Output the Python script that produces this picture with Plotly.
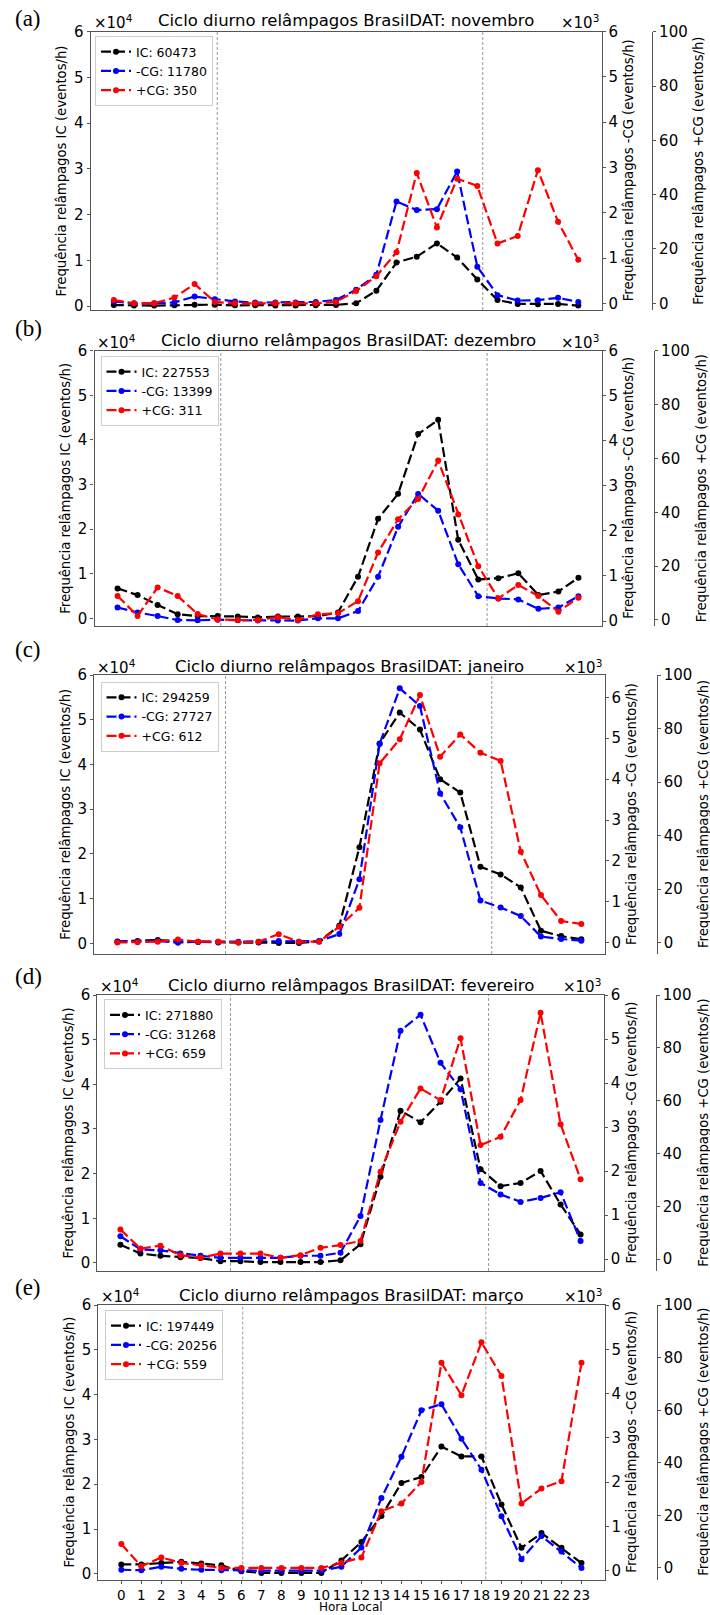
import plotly.graph_objects as go

W, H = 710, 1615

hours = list(range(24))
months = ["novembro", "dezembro", "janeiro", "fevereiro", "março"]
panel_labels = ["(a)", "(b)", "(c)", "(d)", "(e)"]

# IC flashes per hour (events/h)
ic_nov = [200, 100, 100, 150, 300, 300, 150, 150, 100, 100, 150, 250, 600, 3350, 9500, 10800, 13700, 10600, 5800, 1300, 450, 400, 450, 100]
ic_dez = [6700, 5200, 3000, 900, 500, 500, 400, 200, 400, 400, 500, 1300, 9300, 22300, 27900, 41300, 44500, 17600, 8700, 9000, 10100, 5200, 6000, 9100]
ic_jan = [400, 500, 750, 400, 300, 150, 150, 150, 50, 50, 400, 3900, 21500, 44700, 51600, 47800, 36700, 33700, 17100, 15400, 12500, 2800, 1600, 900]
ic_fev = [4100, 2100, 1600, 1300, 1100, 400, 400, 200, 200, 200, 200, 600, 4200, 19300, 34100, 31500, 36100, 41300, 21000, 17200, 17900, 20600, 13100, 6400]
ic_mar = [2100, 2100, 2400, 2700, 2300, 1900, 600, 200, 200, 200, 200, 3000, 7100, 12900, 20300, 21600, 28400, 26200, 26200, 15500, 5800, 9100, 5800, 2400]

# -CG flashes per hour
ncg_nov = [40, 0, 0, 20, 150, 90, 40, 15, 15, 15, 30, 75, 300, 630, 2250, 2060, 2080, 2910, 810, 180, 60, 70, 120, 30]
ncg_dez = [300, 190, 110, 20, 15, 30, 15, 10, 10, 10, 60, 60, 220, 980, 2090, 2820, 2450, 1260, 550, 500, 480, 270, 300, 550]
ncg_jan = [25, 25, 40, 0, 25, 25, 25, 25, 40, 25, 40, 210, 1550, 4860, 6220, 5790, 3650, 2820, 1030, 860, 650, 150, 90, 50]
ncg_fev = [520, 220, 200, 130, 76, 30, 30, 30, 30, 76, 76, 144, 980, 3160, 5190, 5550, 4460, 3860, 1730, 1470, 1300, 1390, 1520, 410]
ncg_mar = [20, 10, 90, 40, 20, 10, 0, 0, 0, 0, 0, 90, 520, 1640, 2570, 3620, 3760, 2980, 2280, 1230, 260, 780, 430, 60]

# +CG flashes per hour
pcg_nov = [1.2, 0, 0, 2.1, 7.1, 0.5, 0, 0, 0, 0, 0, 0.5, 4.5, 10, 18.8, 48, 27.9, 45.9, 43.2, 22, 24.8, 49, 30, 16]
pcg_dez = [8.9, 1.5, 12.1, 8.9, 2.2, 0.2, 0, 0, 1, 0, 2.1, 2.5, 7, 25.1, 37.4, 44.9, 59.2, 39.2, 20, 8, 13, 8.9, 3.1, 8.3]
pcg_jan = [0.1, 0.2, 0.4, 1.2, 0.4, 0.4, 0.1, 0.4, 3.2, 0.4, 0.4, 6, 13.1, 67, 76, 92.5, 69.5, 77.8, 71, 67.9, 34, 17.8, 8.1, 7]
pcg_fev = [11.2, 4.0, 5.1, 1.5, 0.5, 2.1, 2.1, 2.1, 0.5, 1.5, 4.3, 5.3, 6.9, 33.1, 52, 64.6, 60.2, 83.6, 43.2, 46.3, 60.2, 93.3, 51.1, 30.2]
pcg_mar = [9.1, 0.6, 4.0, 1.9, 1.0, 0, 0, 0, 0, 0, 0, 1.9, 4.0, 21.6, 24.5, 32.7, 78, 65.7, 85.8, 73, 24.5, 30.2, 33, 78]

ic_total = [60473, 227553, 294259, 271880, 197449]
ncg_total = [11780, 13399, 27727, 31268, 20256]
pcg_total = [350, 311, 612, 659, 559]

sunrise = [5.12, 5.15, 5.36, 5.5, 6.07]
sunset = [18.27, 18.44, 18.56, 18.4, 18.22]

ic_tick_vals = [0, 10000, 20000, 30000, 40000, 50000, 60000]
ic_tick_text = ["0", "1", "2", "3", "4", "5", "6"]
ncg_tick_vals = [0, 1000, 2000, 3000, 4000, 5000, 6000]
ncg_tick_text = ["0", "1", "2", "3", "4", "5", "6"]
pcg_tick_vals = [0, 20, 40, 60, 80, 100]

IC = [ic_nov, ic_dez, ic_jan, ic_fev, ic_mar]
NCG = [ncg_nov, ncg_dez, ncg_jan, ncg_fev, ncg_mar]
PCG = [pcg_nov, pcg_dez, pcg_jan, pcg_fev, pcg_mar]

# ---- layout geometry (pixels) ----
frames = [  # left, right, top, bottom, third spine x
    (90.6, 601.5, 31.7, 310.0, 652.0),
    (94.5, 601.5, 350.7, 626.0, 654.0),
    (94.2, 604.5, 675.0, 954.0, 656.6),
    (97.4, 603.6, 995.0, 1271.0, 655.7),
    (98.3, 604.5, 1305.0, 1579.5, 656.6),
]
ic_lo = [-870, -1730, -2400, -1800, -1260]
ncg_rng = [(-148, 6000), (-111, 6000), (-277, 6546), (-270, 6000), (-200, 6000)]
pcg_lo = [-2.47, -2.23, -4.2, -4.5, -4.4]
title_y = [20.7, 340.7, 666.0, 985.0, 1295.0]
label_y = [19.0, 328.0, 649.0, 976.0, 1287.0]
legend_pos = [(95, 36), (100.5, 356), (100.5, 681.7), (104, 999.3), (105, 1310)]

FONT = "DejaVu Sans"
AXC = "#555555"
TICKF = dict(family=FONT, size=15, color="black")
XTICKF = dict(family=FONT, size=13.5, color="black")
LINE_DASH = "10px,4px"

fig = go.Figure()
layout = dict(
    width=W, height=H, margin=dict(l=0, r=0, t=0, b=0),
    paper_bgcolor="white", plot_bgcolor="white",
    font=dict(family=FONT, color="black"),
    showlegend=True,
)
annotations = []
shapes = []


def px_x(v):
    return v / W


def px_y(v):
    return 1 - v / H


for i in range(5):
    L, R, T, B, S = frames[i]
    xk = "x" if i == 0 else f"x{i + 1}"
    xlay = "xaxis" if i == 0 else f"xaxis{i + 1}"
    ks = [3 * i + 1, 3 * i + 2, 3 * i + 3]
    yk = ["y" if k == 1 else f"y{k}" for k in ks]
    ylay = ["yaxis" if k == 1 else f"yaxis{k}" for k in ks]
    lg = "legend" if i == 0 else f"legend{i + 1}"
    xdom = [px_x(L), px_x(R)]
    ydom = [px_y(B), px_y(T)]
    last = (i == 4)

    xaxis = dict(
        domain=xdom, anchor=yk[0], range=[-1.15, 24.15],
        showline=True, linecolor=AXC, linewidth=1.2, mirror=True,
        showgrid=False, zeroline=False, automargin=False,
    )
    if last:
        xaxis.update(
            tickmode="array", tickvals=hours, ticktext=[str(h) for h in hours],
            showticklabels=True, ticks="outside", ticklen=3, tickcolor=AXC,
            tickangle=0, tickfont=XTICKF, ticklabelstandoff=0,
        )
    else:
        xaxis.update(showticklabels=False, ticks="")
    layout[xlay] = xaxis

    layout[ylay[0]] = dict(
        domain=ydom, anchor=xk, range=[ic_lo[i], 60000],
        tickmode="array", tickvals=ic_tick_vals, ticktext=ic_tick_text,
        ticks="outside", ticklen=3, tickcolor=AXC, tickfont=TICKF,
        showline=True, linecolor=AXC, linewidth=1.2, mirror=True,
        showgrid=False, zeroline=False, automargin=False,
    )
    layout[ylay[1]] = dict(
        domain=ydom, anchor=xk, overlaying=yk[0], side="right",
        range=list(ncg_rng[i]),
        tickmode="array", tickvals=ncg_tick_vals, ticktext=ncg_tick_text,
        ticks="outside", ticklen=3, tickcolor=AXC, tickfont=TICKF,
        showline=True, linecolor=AXC, linewidth=1.2,
        showgrid=False, zeroline=False, automargin=False,
    )
    layout[ylay[2]] = dict(
        domain=ydom, anchor="free", position=px_x(S), overlaying=yk[0], side="right",
        range=[pcg_lo[i], 100],
        tickmode="array", tickvals=pcg_tick_vals,
        ticks="outside", ticklen=3, tickcolor=AXC, tickfont=TICKF,
        showline=True, linecolor=AXC, linewidth=1.2,
        showgrid=False, zeroline=False, automargin=False,
    )

    series = [
        (IC[i], yk[0], "black", f"IC: {ic_total[i]}"),
        (NCG[i], yk[1], "#0000ff", f"-CG: {ncg_total[i]}"),
        (PCG[i], yk[2], "#ff0000", f"+CG: {pcg_total[i]}"),
    ]
    for vals, ya, col, name in series:
        fig.add_trace(go.Scatter(
            x=hours, y=vals, xaxis=xk, yaxis=ya, name=name, legend=lg,
            mode="lines+markers",
            line=dict(color=col, width=2.2, dash=LINE_DASH),
            marker=dict(color=col, size=6),
            cliponaxis=False,
        ))

    lx, ly = legend_pos[i]
    layout[lg] = dict(
        x=px_x(lx), y=px_y(ly), xanchor="left", yanchor="top",
        bgcolor="rgba(255,255,255,0.85)", bordercolor="#cccccc", borderwidth=1,
        font=dict(family=FONT, size=12.5, color="black"),
        itemwidth=30, tracegroupgap=0, traceorder="normal",
    )

    # sunrise / sunset lines
    for xv in (sunrise[i], sunset[i]):
        shapes.append(dict(
            type="line", xref=xk, yref=f"{yk[0]} domain", x0=xv, x1=xv, y0=0, y1=1,
            line=dict(color="#999999", width=1, dash="3px,2px"), layer="below",
        ))

    cy = (T + B) / 2
    # title
    annotations.append(dict(
        text=f"Ciclo diurno relâmpagos BrasilDAT: {months[i]}",
        xref="paper", yref="paper", x=px_x((L + R) / 2), y=px_y(title_y[i]),
        xanchor="center", yanchor="middle", showarrow=False,
        font=dict(family=FONT, size=16.5, color="black"),
    ))
    # panel label
    annotations.append(dict(
        text=panel_labels[i], xref="paper", yref="paper",
        x=px_x(28), y=px_y(label_y[i]), xanchor="center", yanchor="middle",
        showarrow=False, font=dict(family="Liberation Serif", size=23, color="black"),
    ))
    # multipliers
    annotations.append(dict(
        text="×10<sup>4</sup>", xref="paper", yref="paper",
        x=px_x(L + 1), y=px_y(title_y[i] + 1), xanchor="left", yanchor="middle",
        showarrow=False, font=dict(family=FONT, size=15, color="black"),
    ))
    annotations.append(dict(
        text="×10<sup>3</sup>", xref="paper", yref="paper",
        x=px_x(R - 1), y=px_y(title_y[i] + 1), xanchor="right", yanchor="middle",
        showarrow=False, font=dict(family=FONT, size=15, color="black"),
    ))
    # axis titles
    for txt, xc in (
        ("Frequência relâmpagos IC (eventos/h)", L - 29),
        ("Frequência relâmpagos -CG (eventos/h)", R + 27),
        ("Frequência relâmpagos +CG (eventos/h)", S + 47),
    ):
        annotations.append(dict(
            text=txt, xref="paper", yref="paper", x=px_x(xc), y=px_y(cy),
            xanchor="center", yanchor="middle", textangle=-90, showarrow=False,
            font=dict(family=FONT, size=13.2, color="black"),
        ))

annotations.append(dict(
    text="Hora Local", xref="paper", yref="paper",
    x=px_x((frames[4][0] + frames[4][1]) / 2), y=0, xanchor="center", yanchor="bottom",
    showarrow=False, borderpad=0, font=dict(family=FONT, size=12, color="black"),
))

layout["annotations"] = annotations
layout["shapes"] = shapes
fig.update_layout(**layout)
fig.write_html("out.html")
